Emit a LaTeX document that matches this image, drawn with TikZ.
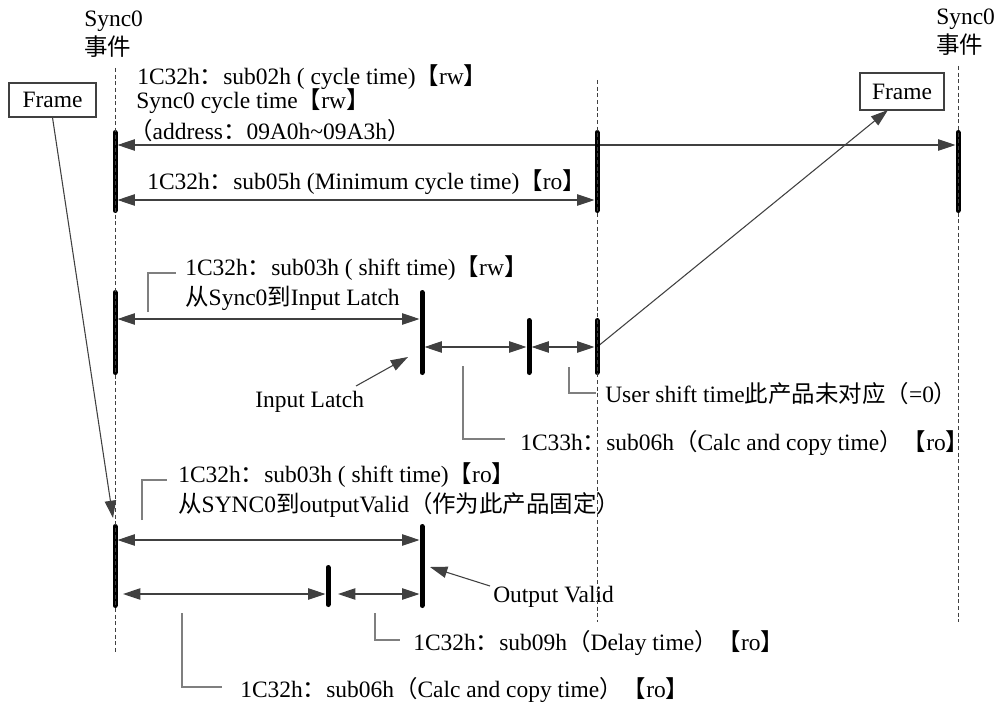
\documentclass[tikz,border=0pt]{standalone}
\usepackage{fontspec}
\setmainfont{Liberation Serif}
\newfontfamily\cjkfnt{Noto Sans CJK SC}
\newcommand\zhx[1]{{\cjkfnt #1}}
\usetikzlibrary{arrows.meta}
\definecolor{arrc}{HTML}{404040}
\definecolor{leadc}{HTML}{7F7F7F}
\definecolor{dashc}{HTML}{404040}
\begin{document}
\begin{tikzpicture}[x=0.75pt,y=-0.75pt,
  lbl/.style={font=\fontsize{17.6}{20}\selectfont, inner sep=0pt, anchor=base west},
  bar/.style={line width=3.75pt, line cap=round, black},
  life/.style={dashc, line width=0.7pt, dash pattern=on 3pt off 2pt},
  dim/.style={arrc, line width=0.8pt, {Triangle[length=13pt,width=8.5pt]}-{Triangle[length=13pt,width=8.5pt]}},
  ptr/.style={arrc, line width=0.8pt, -{Triangle[length=13pt,width=8.5pt]}},
  lead/.style={leadc, line width=0.8pt},
  framebox/.style={draw=arrc, line width=0.8pt, fill=white, font=\fontsize{17.6}{20}\selectfont, inner sep=0pt},
]
\useasboundingbox (0,0) rectangle (1002,706);

% ---------- coordinates ----------
\coordinate (LtopA) at (115,68);  \coordinate (LbotA) at (115,652);
\coordinate (LtopB) at (597,80);  \coordinate (LbotB) at (597,622);
\coordinate (LtopC) at (958,66);  \coordinate (LbotC) at (958,622);

\coordinate (b1t) at (115,132.5); \coordinate (b1b) at (115,210.5);
\coordinate (b2t) at (597,132.5); \coordinate (b2b) at (597,210.5);
\coordinate (b3t) at (958,132.5); \coordinate (b3b) at (958,210.5);
\coordinate (b4t) at (115,292.5); \coordinate (b4b) at (115,372.5);
\coordinate (b5t) at (422,292.5); \coordinate (b5b) at (422,372.5);
\coordinate (b6t) at (529,320.5); \coordinate (b6b) at (529,372.5);
\coordinate (b7t) at (597,320.5); \coordinate (b7b) at (597,372.5);
\coordinate (b8t) at (115,526.5); \coordinate (b8b) at (115,605.5);
\coordinate (b9t) at (422,526.5); \coordinate (b9b) at (422,605.5);
\coordinate (b10t) at (328,567.5); \coordinate (b10b) at (328,604.5);

\coordinate (a1l) at (117.5,145); \coordinate (a1r) at (955.5,145);
\coordinate (a2l) at (117.5,200); \coordinate (a2r) at (594.5,200);
\coordinate (a3l) at (117.5,319); \coordinate (a3r) at (419.5,319);
\coordinate (a4l) at (424.5,347); \coordinate (a4r) at (526.5,347);
\coordinate (a5l) at (531.5,347); \coordinate (a5r) at (594.5,347);
\coordinate (a6l) at (117.5,540); \coordinate (a6r) at (419.5,540);
\coordinate (a7l) at (123,594);   \coordinate (a7r) at (325.5,594);
\coordinate (a8l) at (338,594);   \coordinate (a8r) at (419.5,594);

\coordinate (fLt) at (113,518);
\coordinate (fRs) at (597,347);  \coordinate (fRt) at (888,110);
\coordinate (ilS) at (356,386);  \coordinate (ilT) at (408,357);
\coordinate (ovS) at (490,586);  \coordinate (ovT) at (430,567);

\coordinate (k1a) at (148,312); \coordinate (k1b) at (148,273); \coordinate (k1c) at (176,273);
\coordinate (k2a) at (569,367); \coordinate (k2b) at (569,393); \coordinate (k2c) at (596,393);
\coordinate (k3a) at (463,366); \coordinate (k3b) at (463,439); \coordinate (k3c) at (505,439);
\coordinate (k4a) at (142,520); \coordinate (k4b) at (142,480); \coordinate (k4c) at (167,480);
\coordinate (k5a) at (375,613); \coordinate (k5b) at (375,640); \coordinate (k5c) at (400,640);
\coordinate (k6a) at (182,613); \coordinate (k6b) at (182,687); \coordinate (k6c) at (222,687);

% ---------- frame boxes ----------
\node[framebox, minimum width=65.25pt, minimum height=25.5pt] (fL) at (52.5,100) {Frame};
\node[framebox, minimum width=63pt, minimum height=27.75pt] (fR) at (902,91.5) {Frame};

% ---------- texts ----------
\node[lbl] (t1) at (84,27) {Sync0};
\node[lbl] (t2) at (84,56) {\zhx{事件}};
\node[lbl] (t3) at (936,25) {Sync0};
\node[lbl] (t4) at (936,54) {\zhx{事件}};
\node[lbl] (t5) at (137,85) {1C32h\zhx{：}sub02h ( cycle time)\zhx{【}rw\zhx{】}};
\node[lbl] (t6) at (136,109) {Sync0 cycle time\zhx{【}rw\zhx{】}};
\node[lbl] (t7) at (129,140) {\zhx{（}address\zhx{：}09A0h\textasciitilde 09A3h\zhx{）}};
\node[lbl] (t8) at (147,189) {1C32h\zhx{：}sub05h (Minimum cycle time)\zhx{【}ro\zhx{】}};
\node[lbl] (t9) at (185,275) {1C32h\zhx{：}sub03h ( shift time)\zhx{【}rw\zhx{】}};
\node[lbl] (t10) at (185,305) {\zhx{从}Sync0\zhx{到}Input Latch};
\node[lbl] (t11) at (255,407) {Input Latch};
\node[lbl] (t12) at (605,402) {User shift time\zhx{此产品未对应（}=0\zhx{）}};
\node[lbl] (t13) at (520,450) {1C33h\zhx{：}sub06h\zhx{（}Calc and copy time\zhx{）【}ro\zhx{】}};
\node[lbl] (t14) at (178,482) {1C32h\zhx{：}sub03h ( shift time)\zhx{【}ro\zhx{】}};
\node[lbl] (t15) at (178,512) {\zhx{从}SYNC0\zhx{到}outputValid\zhx{（作为此产品固定）}};
\node[lbl] (t16) at (493,602) {Output Valid};
\node[lbl] (t17) at (413,650) {1C32h\zhx{：}sub09h\zhx{（}Delay time\zhx{）【}ro\zhx{】}};
\node[lbl] (t18) at (240,697) {1C32h\zhx{：}sub06h\zhx{（}Calc and copy time\zhx{）【}ro\zhx{】}};

% ---------- leader lines ----------
\draw[lead] (k1a) -- (k1b) -- (k1c);
\draw[lead] (k2a) -- (k2b) -- (k2c);
\draw[lead] (k3a) -- (k3b) -- (k3c);
\draw[lead] (k4a) -- (k4b) -- (k4c);
\draw[lead] (k5a) -- (k5b) -- (k5c);
\draw[lead] (k6a) -- (k6b) -- (k6c);

% ---------- dimension arrows ----------
\draw[dim] (a1l) -- (a1r);
\draw[dim] (a2l) -- (a2r);
\draw[dim] (a3l) -- (a3r);
\draw[dim] (a4l) -- (a4r);
\draw[dim] (a5l) -- (a5r);
\draw[dim] (a6l) -- (a6r);
\draw[dim] (a7l) -- (a7r);
\draw[dim] (a8l) -- (a8r);

% ---------- pointers ----------
\draw[ptr] (fL.south) -- (fLt);
\draw[ptr] (fRs) -- (fRt);
\draw[ptr] (ilS) -- (ilT);
\draw[ptr] (ovS) -- (ovT);

% ---------- bars ----------
\foreach \b in {b1,b2,b3,b4,b5,b6,b7,b8,b9,b10}
  \draw[bar] (\b t) -- (\b b);

% ---------- lifelines ----------
\draw[life] (LtopA) -- (LbotA);
\draw[life] (LtopB) -- (LbotB);
\draw[life] (LtopC) -- (LbotC);
\end{tikzpicture}
\end{document}
